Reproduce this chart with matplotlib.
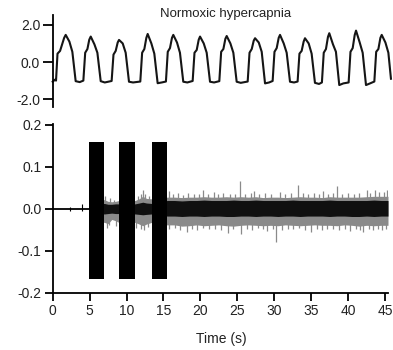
import matplotlib
matplotlib.use("Agg")
import matplotlib.pyplot as plt

plt.rcParams['font.family'] = ['Liberation Sans', 'DejaVu Sans']

# ---------------- top panel: breathing trace ----------------
breath_t = [0.0, 0.3, 0.45, 0.65, 1.0, 1.55, 1.76, 2.26, 2.66, 3.11, 3.66,
            4.15, 4.4, 4.7, 4.95, 5.15, 5.65, 6.05, 6.5, 7.05,
            7.98, 8.23, 8.53, 8.8, 8.98, 9.48, 9.88, 10.33, 10.88,
            11.86, 12.11, 12.41, 12.68, 12.86, 13.36, 13.76, 14.21, 14.76,
            15.33, 15.58, 15.88, 16.15, 16.33, 16.83, 17.23, 17.68, 18.23,
            18.95, 19.2, 19.5, 19.77, 19.95, 20.45, 20.85, 21.3, 21.85,
            22.56, 22.81, 23.11, 23.38, 23.56, 24.06, 24.46, 24.91, 25.46,
            26.4, 26.65, 26.95, 27.22, 27.4, 27.9, 28.3, 28.75, 29.3,
            29.78, 30.03, 30.33, 30.6, 30.78, 31.28, 31.68, 32.13, 32.68,
            33.16, 33.41, 33.71, 33.98, 34.16, 34.66, 35.06, 35.51, 36.06,
            36.45, 36.7, 37.0, 37.27, 37.45, 37.95, 38.35, 38.8, 39.35,
            40.07, 40.32, 40.62, 40.89, 41.07, 41.57, 41.97, 42.42, 42.97,
            43.55, 43.8, 44.1, 44.37, 44.55, 45.05, 45.45, 45.8]
breath_v = [-1.06, -0.95, -1.0, 0.45, 0.6, 1.3, 1.46, 1.1, 0.55, -1.03, -1.08,
            -1.0, 0.5, 0.7, 1.2, 1.37, 0.95, 0.5, -1.03, -1.1,
            -1.02, 0.4, 0.6, 1.05, 1.19, 1.0, 0.5, -1.06, -1.1,
            -1.05, 0.5, 0.7, 1.3, 1.51, 1.0, 0.45, -1.14, -1.1,
            -1.05, 0.55, 0.75, 1.3, 1.46, 1.05, 0.5, -1.06, -1.1,
            -1.02, 0.5, 0.65, 1.2, 1.37, 1.0, 0.5, -1.06, -1.1,
            -1.03, 0.55, 0.7, 1.25, 1.40, 1.0, 0.5, -1.06, -1.12,
            -1.05, 0.5, 0.7, 1.15, 1.28, 1.05, 0.55, -1.15, -1.1,
            -1.02, 0.55, 0.75, 1.3, 1.46, 1.0, 0.5, -1.06, -1.1,
            -1.05, 0.45, 0.6, 1.1, 1.28, 1.0, 0.45, -1.12, -1.18,
            -1.1, 0.5, 0.7, 1.35, 1.55, 0.95, 0.55, -1.24, -1.15,
            -1.1, 0.55, 0.75, 1.45, 1.69, 1.05, 0.5, -1.24, -1.15,
            -1.05, 0.55, 0.7, 1.3, 1.46, 1.05, 0.5, -0.9]

top_ticks = [2.0, 0.0, -2.0]
top_ticklabels = ["2.0", "0.0", "-2.0"]

# ---------------- bottom panel ----------------
# stimulation blocks
block_start = [4.85, 8.95, 13.4]
block_end = [7.0, 11.15, 15.5]
block_high = [0.159, 0.159, 0.159]
block_low = [-0.167, -0.167, -0.167]

# flat baseline before stimulation, with its small deflections
base_t = [0.0, 4.85]
base_v = [0.0, 0.0]
base_spike_t = [2.3, 4.0]
base_spike_hi = [0.004, 0.012]
base_spike_lo = [-0.004, -0.006]

# envelope of the noisy recording
env_t = [4.85, 7.0, 7.5, 8.0, 8.5, 8.95,
         11.15, 11.7, 12.2, 12.7, 13.4,
         15.5, 16.5, 17.5, 18.5, 19.5, 20.5, 21.5, 22.5, 23.5, 24.5,
         25.5, 26.5, 27.5, 28.5, 29.5, 30.5, 31.5, 32.5, 33.5, 34.5,
         35.5, 36.5, 37.5, 38.5, 39.5, 40.5, 41.5, 42.5, 43.5, 44.5, 45.4]
grey_hi = [0.022, 0.022, 0.018, 0.017, 0.018, 0.02,
           0.02, 0.024, 0.03, 0.025, 0.024,
           0.028, 0.028, 0.027, 0.028, 0.028, 0.029, 0.028, 0.028, 0.029, 0.028,
           0.029, 0.028, 0.029, 0.027, 0.028, 0.028, 0.027, 0.028, 0.029, 0.028,
           0.028, 0.027, 0.029, 0.028, 0.028, 0.028, 0.028, 0.029, 0.03, 0.03, 0.03]
grey_lo = [-0.028, -0.032, -0.035, -0.025, -0.028, -0.032,
           -0.032, -0.036, -0.04, -0.036, -0.032,
           -0.038, -0.038, -0.041, -0.04, -0.038, -0.04, -0.039, -0.038, -0.04, -0.041,
           -0.039, -0.038, -0.039, -0.04, -0.039, -0.04, -0.038, -0.039, -0.04, -0.039,
           -0.038, -0.039, -0.039, -0.04, -0.038, -0.039, -0.041, -0.039, -0.04, -0.039, -0.039]
core_hi = [0.011, 0.013, 0.011, 0.011, 0.012, 0.012,
           0.012, 0.014, 0.016, 0.014, 0.013,
           0.02, 0.02, 0.019, 0.02, 0.02, 0.021, 0.02, 0.02, 0.02, 0.021,
           0.02, 0.02, 0.021, 0.02, 0.02, 0.02, 0.02, 0.021, 0.02, 0.02,
           0.02, 0.02, 0.021, 0.02, 0.02, 0.02, 0.02, 0.02, 0.021, 0.02, 0.02]
core_lo = [-0.01, -0.012, -0.011, -0.01, -0.011, -0.011,
           -0.012, -0.013, -0.014, -0.013, -0.012,
           -0.017, -0.017, -0.018, -0.017, -0.017, -0.018, -0.017, -0.017, -0.018, -0.018,
           -0.017, -0.017, -0.018, -0.017, -0.017, -0.018, -0.017, -0.017, -0.018, -0.017,
           -0.017, -0.017, -0.018, -0.017, -0.017, -0.018, -0.018, -0.017, -0.018, -0.017, -0.017]

# individual upward deflections above the band
up_t = [7.1, 7.7, 8.3, 11.5, 11.9, 12.2, 12.5, 13.0,
        15.7, 16.3, 17.0, 17.6, 18.3, 19.1, 19.8, 20.3, 21.0, 21.8, 22.4,
        23.1, 24.0, 24.7, 25.4, 26.1, 26.8, 27.2, 28.0, 28.7, 29.5, 30.8,
        31.4, 32.2, 33.2, 33.9, 34.6, 35.4, 36.1, 36.6, 37.3, 38.0, 38.5,
        39.2, 40.0, 40.8, 41.5, 42.5, 43.0, 43.6, 44.2, 44.8, 45.2]
up_v = [0.03, 0.026, 0.022, 0.03, 0.036, 0.045, 0.036, 0.03,
        0.042, 0.035, 0.038, 0.034, 0.037, 0.036, 0.035, 0.045, 0.036, 0.04, 0.035,
        0.037, 0.036, 0.035, 0.067, 0.036, 0.038, 0.042, 0.035, 0.037, 0.036, 0.041,
        0.036, 0.038, 0.057, 0.037, 0.035, 0.038, 0.036, 0.043, 0.036, 0.037, 0.054,
        0.036, 0.037, 0.036, 0.038, 0.045, 0.038, 0.045, 0.04, 0.041, 0.045]
# individual downward deflections below the band
dn_t = [7.3, 7.6, 8.6, 11.3, 12.0, 12.4, 12.9,
        15.8, 16.6, 17.3, 18.2, 18.9, 19.6, 20.4, 21.2, 22.0, 22.8, 23.7,
        24.4, 25.45, 26.3, 27.0, 27.8, 28.5, 29.0, 29.8, 30.3, 31.0, 31.8,
        32.6, 33.4, 34.2, 35.0, 35.8, 36.4, 37.2, 38.0, 38.8, 39.6, 40.2,
        41.0, 41.6, 42.0, 42.8, 43.4, 44.0, 44.6, 45.1]
dn_v = [-0.045, -0.038, -0.04, -0.045, -0.048, -0.05, -0.044,
        -0.048, -0.046, -0.05, -0.055, -0.047, -0.049, -0.046, -0.048, -0.047, -0.049, -0.058,
        -0.048, -0.06, -0.047, -0.049, -0.046, -0.048, -0.053, -0.047, -0.078, -0.049, -0.047,
        -0.048, -0.046, -0.049, -0.055, -0.047, -0.049, -0.047, -0.048, -0.049, -0.047, -0.053,
        -0.048, -0.049, -0.055, -0.048, -0.05, -0.047, -0.049, -0.048]

x_ticks = [0, 5, 10, 15, 20, 25, 30, 35, 40, 45]
y_ticks = [0.2, 0.1, 0.0, -0.1, -0.2]
y_ticklabels = ["0.2", "0.1", "0.0", "-0.1", "-0.2"]

W, H = 393, 350
fig = plt.figure(figsize=(W / 100, H / 100), dpi=100)

x0 = 52.7 / W
axw = (388 - 52.7) / W
xmax = 45.4

ax1 = fig.add_axes([x0, 1 - 107 / H, axw, 92 / H])
ax1.plot(breath_t, breath_v, color='#151515', lw=1.5, clip_on=False,
         solid_joinstyle='round')
ax1.set_xlim(0, xmax)
ax1.set_ylim(-2.42, 2.53)
ax1.set_yticks(top_ticks)
ax1.set_yticklabels(top_ticklabels)
ax1.set_xticks([])
for s in ['top', 'right', 'bottom']:
    ax1.spines[s].set_visible(False)
ax1.spines['left'].set_linewidth(1.3)
ax1.tick_params(axis='y', direction='out', length=7, width=1.3, labelsize=10,
                pad=2, labelcolor='#222222')

ax2 = fig.add_axes([x0, 1 - 293 / H, axw, 169 / H])
ax2.fill_between(env_t, grey_lo, grey_hi, color='#8a8a8a', lw=0, zorder=1)
ax2.vlines(up_t, 0, up_v, color='#8a8a8a', lw=0.9, zorder=2)
ax2.vlines(dn_t, 0, dn_v, color='#8a8a8a', lw=0.9, zorder=2)
ax2.fill_between(env_t, core_lo, core_hi, color='#101010', lw=0, zorder=3)
ax2.plot(base_t, base_v, color='black', lw=1.3, zorder=3)
ax2.vlines(base_spike_t, base_spike_lo, base_spike_hi, color='black', lw=0.8, zorder=3)
ax2.bar(block_start, [h - l for h, l in zip(block_high, block_low)],
        width=[e - s for s, e in zip(block_start, block_end)],
        bottom=block_low, align='edge', color='black', lw=0, zorder=4)
ax2.set_xlim(0, xmax)
ax2.set_ylim(-0.2, 0.202)
ax2.set_xticks(x_ticks)
ax2.set_yticks(y_ticks)
ax2.set_yticklabels(y_ticklabels)
for s in ['top', 'right']:
    ax2.spines[s].set_visible(False)
for s in ['left', 'bottom']:
    ax2.spines[s].set_linewidth(1.3)
ax2.tick_params(axis='both', direction='out', length=6, width=1.3, labelsize=10,
                pad=2, labelcolor='#222222')

fig.text(226 / W, 1 - 14 / H, "Normoxic hypercapnia", ha='center', va='center',
         fontsize=9.5, color='#222222')
fig.text(221 / W, 1 - 339 / H, "Time (s)", ha='center', va='center',
         fontsize=10, color='#222222')

fig.savefig("out.png", dpi=100)
